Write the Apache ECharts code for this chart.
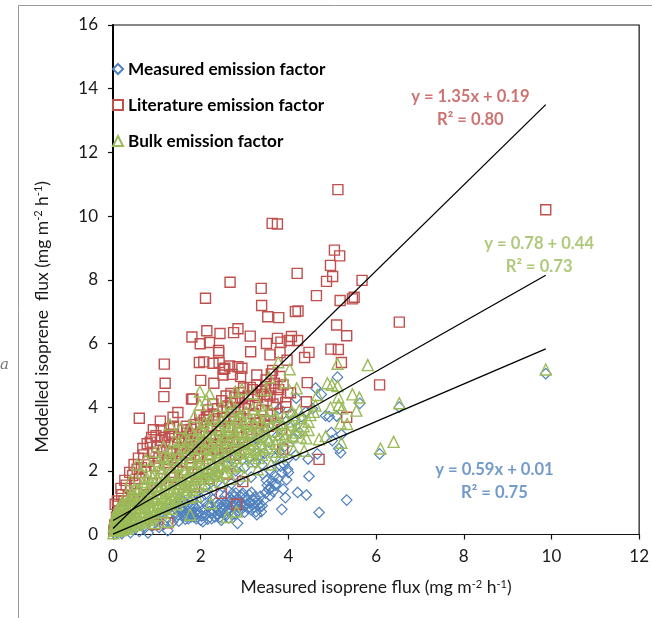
<!DOCTYPE html>
<html>
<head>
<meta charset="utf-8">
<style>html,body{margin:0;padding:0;background:#fff}#c{width:652px;height:618px}</style>
<script src="https://cdn.jsdelivr.net/npm/echarts@6/dist/echarts.min.js"></script>
</head>
<body>
<div id="c"></div>
<script>
const legendNames = ['Measured emission factor', 'Literature emission factor', 'Bulk emission factor'];
const xTicks = [0, 2, 4, 6, 8, 10, 12];
const yTicks = [0, 2, 4, 6, 8, 10, 12, 14, 16];

const measured = [
[9.87,5.05],[6.53,4.0],[6.08,2.53],[5.63,4.12],[5.33,1.08],[5.12,4.94],[5.1,3.72],[4.93,3.7],[4.85,3.73],[4.98,3.2],[5.21,3.14],[5.19,2.57],[5.15,2.7],[5.0,2.95],
[4.7,0.69],[4.66,2.53],[4.47,1.83],[4.45,2.37],[4.41,1.24],[4.21,1.32],[4.18,4.28],[4.17,2.49],[3.93,1.16],[3.85,0.79],[4.0,1.95],[3.98,2.05],[3.9,2.2],[3.85,1.95],[3.8,2.6],[3.72,1.6],[3.7,1.55],[3.65,1.35],[3.6,1.45],[3.58,1.22],[3.55,1.42],[3.5,1.7],[3.48,1.3],[3.42,1.9],[3.4,0.9],
[3.38,0.72],[3.35,0.85],[3.3,1.05],[3.28,0.62],[3.22,0.85],[3.18,1.1],[3.15,0.78],[3.1,1.25],[3.05,0.95],[3.02,1.15],[3.0,0.7],[2.96,1.3],[2.93,1.0],[2.9,1.2],[2.86,0.85],[2.84,0.35],[2.8,1.3],[2.78,0.65],[2.75,1.05],[2.72,1.28],[2.7,0.9],[2.68,0.75],[2.65,1.15],[2.6,0.95],[2.58,0.6],[2.55,1.2],[2.52,0.8],[2.5,1.05],[2.47,0.45],[2.45,0.7],[2.42,0.95],[2.38,0.6],[2.35,0.85],[2.3,0.75],[2.28,1.1],[2.25,0.5],[2.2,0.72],[2.15,0.9],[2.1,1.25],[2.05,0.4],[2.0,0.45],[1.95,0.7],[1.9,0.5],[1.88,0.85],[1.85,0.55],[1.8,0.65],[1.75,0.9],[1.72,0.5],[1.7,0.72],[1.65,0.48],[1.6,0.6],[1.55,0.8],[1.5,0.42],[1.45,0.55],[1.4,0.68],[1.35,0.38],[1.25,0.12],[1.2,0.45],[1.15,0.32],[1.05,0.22],[1.0,0.42],[0.9,0.28],[0.8,0.05],[0.72,0.2],[0.6,0.1],[0.5,0.18],[0.4,0.06],[0.3,0.12],[0.2,0.03],[0.1,0.05],[0.04,0.02],
[3.0,2.1],[3.1,2.4],[3.2,2.75],[3.3,3.0],[3.4,2.2],[3.45,2.55],[3.5,3.3],[3.55,2.9],[3.6,2.0],[3.65,3.6],[3.7,2.4],[3.75,3.1],[3.8,3.95],[3.85,3.4],[3.9,2.75],[3.95,3.55],[4.0,2.4],[4.05,3.8],[4.1,3.0],[4.15,3.55],[4.25,3.2],[4.3,3.7],[4.4,3.85],[4.55,3.95],[4.62,4.6],[4.75,4.4],[2.7,1.6],[2.8,2.0],[2.9,1.7],[2.95,2.35],[2.6,2.2],[2.5,1.5],[2.4,1.9],[2.3,1.4],[2.2,1.7],[2.1,1.5],[2.0,1.15],[1.9,1.3],[1.8,1.1],[1.7,1.25],[1.6,1.0],[1.5,1.1],[1.4,0.95],[1.3,0.85],[1.2,0.75],[1.1,0.7],[1.0,0.65],
[1.42,0.82],[1.48,0.62],[1.52,0.95],[1.58,0.72],[1.62,0.85],[1.68,0.62],[1.74,0.78],[1.78,0.55],[1.82,0.92],[1.86,0.7],[1.92,0.62],[1.96,0.88],[2.02,0.58],[2.06,0.78],[2.12,0.62],[2.16,0.48],[2.22,0.92],[2.26,0.68],[2.32,0.55],[2.36,1.02],[2.4,0.75],[2.44,0.55],[2.48,0.88],[2.54,0.62],[2.56,1.0],[2.62,0.78],[2.64,0.52],[2.66,1.05],[2.72,0.62],[2.74,0.88],[2.76,1.18],[2.82,0.95],[2.84,0.72],[2.88,1.08],[2.92,0.78],[2.94,1.25],[2.98,0.92],[3.04,1.08],[3.08,0.82],[3.12,1.0],[3.16,1.32],[3.2,0.95],[3.24,1.18],[3.26,0.72],[3.32,0.92],[3.36,1.2],[3.44,1.08],[3.52,1.55],[3.62,1.68],[3.68,1.85],[3.76,1.75],[3.82,2.15],[3.88,1.42],[3.96,1.72],[2.3,2.1],[2.4,2.4],[2.55,2.55],[2.7,2.35],[2.85,2.7],[3.05,2.85],[3.15,1.8],[3.25,2.25],[3.35,2.5]
];

const literature = [
[9.87,10.2],[6.53,6.67],[6.08,4.7],[5.68,7.98],[5.5,7.45],[5.46,7.4],[5.33,6.24],[5.33,3.68],[5.21,5.4],[5.18,7.35],[5.17,8.75],[5.14,5.81],[5.13,10.83],[5.1,6.58],[5.05,8.93],[5.01,8.1],[4.97,5.82],[4.96,8.45],[4.87,7.95],[4.7,2.36],[4.64,7.5],[4.47,5.72],[4.43,4.77],[4.41,4.17],[4.37,5.56],[4.22,7.02],[4.21,6.09],[4.2,8.2],[4.16,7.0],[4.07,6.22],[4.02,6.09],[3.97,5.47],[3.94,4.15],[3.94,4.01],[3.87,2.68],[3.83,6.04],[3.81,5.71],[3.81,4.96],[3.78,6.81],[3.75,9.75],[3.75,6.16],[3.64,5.15],[3.63,9.77],[3.61,5.04],[3.58,5.64],[3.53,6.84],[3.5,6.0],[3.49,4.85],[3.39,7.19],[3.38,7.73],[3.28,5.01],[3.14,5.74],[3.13,6.23],[3.13,4.62],[2.94,5.22],[2.91,4.96],[2.85,6.46],[2.85,5.27],[2.82,0.95],[2.75,6.34],[2.72,5.03],[2.69,4.43],[2.67,7.92],[2.66,5.29],[2.55,5.22],[2.52,5.19],[2.51,5.01],[2.47,1.29],[2.44,6.31],[2.42,5.4],[2.41,5.78],[2.41,5.71],[2.3,4.75],[2.28,5.38],[2.2,6.03],[2.16,3.91],[2.14,6.4],[2.13,3.7],[2.11,7.42],[2.07,5.42],[2.0,4.84],[1.99,5.99],[1.97,5.4],[1.82,4.26],[1.8,6.2],[1.79,4.25],[1.69,3.18],[1.6,3.28],[1.48,3.83],[1.37,3.68],[1.29,3.33],[1.25,0.37],[1.19,4.75],[1.17,5.35],[1.16,4.33],[1.1,3.28],[1.08,3.56],[0.95,0.31],[0.92,3.29],[0.6,3.65],[0.23,0.92],[0.12,0.89],
[3.6,4.6],[3.5,4.2],[3.45,4.4],[3.4,3.9],[3.3,4.3],[3.25,4.05],[3.2,3.8],[3.1,4.1],[3.05,3.6],[3.0,3.95],[2.95,4.3],[2.9,3.7],[2.85,3.95],[2.8,4.15],[2.75,3.6],[2.7,3.85],[2.65,3.4],[2.6,4.0],[2.55,3.65],[2.5,3.85],[2.45,3.3],[2.4,3.55],[2.35,3.1],[2.3,3.75],[2.25,3.35],[2.2,3.05],[2.15,3.4],[2.1,2.85],[2.05,3.2],[2.0,3.5],[1.95,2.9],[1.9,3.15],[1.85,3.45],[1.8,2.75],[1.75,3.0],[1.7,2.55],[1.65,2.95],[1.55,2.7],[1.5,3.05],[1.45,2.4],[1.4,2.85],[1.35,3.15],[1.3,2.6],[1.25,2.9],[1.2,2.25],[1.15,2.65],[1.1,2.95],[1.05,2.4],[1.0,2.75],[0.95,2.15],[0.9,2.55],[0.85,2.9],[0.8,2.3],[0.75,1.95],[0.7,2.5],[0.65,2.1],[0.6,1.75],[0.55,2.05],[0.5,1.6],[0.45,1.85],[0.4,1.45],[0.35,1.2],[0.3,1.55],[0.25,1.05],[0.2,1.25],[0.16,0.75],[0.08,0.55],[0.04,0.3],[0.02,0.12],
[3.0,2.9],[2.8,2.5],[2.6,2.85],[2.4,2.4],[2.2,2.2],[2.0,2.5],[1.86,1.5],[1.8,2.1],[1.6,1.95],[1.4,1.8],[1.2,1.55],[1.0,1.4],[0.8,1.25],[0.6,1.05],[0.4,0.8],[0.3,0.45],[0.15,0.25],[2.96,1.66],[3.3,3.3],[3.45,3.55],[3.6,3.75],[3.75,4.3],[3.85,3.3],[4.05,4.45],
[0.05,0.95],[0.1,1.05],[0.18,1.45],[0.27,1.7],[0.38,1.95],[0.48,2.2],[0.58,2.4],[0.68,2.7],[0.78,2.85],[0.88,3.05],[0.98,3.1],[1.18,3.05],[1.28,3.1],[1.38,3.4],[1.58,3.05],[1.68,3.4],[1.78,3.3],[1.88,3.35],[1.98,3.75],[2.08,3.6],[2.18,3.75],[2.28,4.1],[2.38,3.95],[2.48,4.2],[2.58,4.35],[2.68,4.15],[2.78,4.3],[2.88,4.45],[2.98,4.6],[3.08,4.35],[3.18,4.55],[3.28,4.7],[3.38,4.5],[3.48,4.65],[3.58,4.35],[3.68,4.75],[3.78,4.55],[3.88,4.7],[3.98,4.45],
[1.25,2.35],[1.35,2.55],[1.45,2.1],[1.55,2.3],[1.65,2.5],[1.75,2.25],[1.85,2.65],[1.95,2.45],[2.05,2.7],[2.15,2.5],[2.25,2.85],[2.35,2.65],[2.45,2.95],[2.55,2.75],[2.65,3.05],[2.75,2.9],[2.85,3.2],[2.95,3.05],[3.05,3.3],[3.15,3.15],[3.25,3.5],[3.35,3.6],[3.55,3.4],[3.65,4.1],[3.75,3.8],[1.3,1.95],[1.1,1.75],[0.9,1.6],[0.7,1.45],[0.5,1.1],[0.28,0.75],[0.1,0.32],[2.6,1.9],[2.2,1.75],[1.95,1.9],[1.55,1.6]
];

const bulk = [
[9.87,5.18],[6.53,4.12],[6.4,2.91],[6.1,2.7],[5.81,5.32],[5.62,4.3],[5.55,3.89],[5.46,4.4],[5.34,3.47],[5.23,3.96],[5.21,2.88],[5.19,3.49],[5.15,4.07],[5.14,4.31],[5.12,5.36],[5.12,4.66],[4.99,4.7],[4.96,3.99],[4.89,4.75],[4.85,3.09],[4.7,2.99],[4.66,4.38],[4.46,3.54],[4.46,3.28],[4.41,3.02],[4.36,2.63],[4.19,4.59],[4.03,5.19],[3.93,4.78],[3.77,5.41],[3.56,4.94],[3.49,4.54],[3.19,4.43],[2.94,4.56],[2.79,4.49],[2.69,4.1],[2.47,4.04],[2.2,4.41],[2.13,4.22],[1.98,4.49],[1.98,4.07],
[4.3,3.65],[4.25,3.9],[4.2,3.4],[4.15,3.75],[4.1,3.1],[4.05,3.55],[4.0,2.95],[3.95,3.3],[3.9,3.7],[3.85,2.6],[3.8,3.15],[3.75,3.5],[3.7,2.85],[3.65,3.25],[3.6,3.9],[3.55,2.7],[3.5,3.05],[3.45,3.4],[3.4,2.5],[3.35,2.85],[3.3,3.7],[3.25,3.15],[3.2,2.3],[3.15,2.7],[3.1,3.4],[3.05,2.95],[3.0,2.4],[2.95,3.2],[2.9,2.65],[2.85,3.55],[2.8,2.95],[2.75,2.2],[2.7,3.3],[2.65,2.7],[2.6,3.7],[2.55,3.0],[2.5,2.35],[2.45,3.4],[2.4,2.8],[2.35,2.1],[2.3,3.1],[2.25,2.55],[2.2,3.6],[2.15,2.9],[2.1,2.25],[2.05,3.25],[2.0,2.7],[1.95,1.95],[1.9,3.05],[1.85,3.7],[1.8,2.4],[1.75,3.3],[1.7,1.85],[1.65,2.75],[1.6,2.2],[1.55,3.35],[1.5,2.5],[1.45,1.75],[1.4,2.95],[1.35,2.1],[1.3,3.45],[1.25,2.4],[1.2,1.6],[1.15,2.75],[1.1,1.95],[1.05,2.3],[1.0,1.5],[0.95,2.6],[0.9,1.8],[0.85,2.15],[0.8,1.35],[0.75,2.35],[0.7,1.65],[0.65,1.95],[0.6,1.2],[0.55,2.2],[0.5,1.45],[0.45,1.1],[0.4,1.7],[0.35,0.95],[0.3,1.25],[0.25,0.7],[0.2,1.0],[0.15,0.5],[0.1,0.8],[0.06,0.3],[0.03,0.12],[0.01,0.04],
[2.6,0.55],[2.82,0.72],[2.24,0.98],[1.76,0.62],[1.25,0.4],[0.95,0.36],[1.9,1.2],[2.15,1.55],[2.45,1.65],[2.7,1.75],[3.0,1.85],[3.3,2.05],[3.6,2.2],[1.7,1.4],[1.5,1.25],[1.3,1.05],[1.1,0.9],[0.9,0.75],[0.7,0.6],[0.5,0.42],[0.35,0.3],[0.22,0.2],[0.12,0.12],[1.45,0.95],[1.2,0.85],[1.0,0.6],[0.8,0.5],[0.6,0.35],[0.4,0.5],[0.28,0.4],[0.18,0.28],[0.08,0.18],[0.05,0.42],[0.13,0.62],[0.24,0.85],[0.33,1.05],[0.42,1.3],[0.52,0.85],[0.62,0.72],[0.72,1.0],[0.82,0.88],[0.92,1.1],[1.02,1.2],[1.12,1.3],[1.22,1.15],[1.32,1.45],[1.42,1.35],[1.52,1.6],[1.62,1.5],[1.72,1.7],[1.82,1.6],[1.92,1.75],[2.02,1.85],[2.12,1.95],[2.22,2.05],[2.32,1.85],[2.42,2.15],[2.52,1.95],
[0.02,0.25],[0.04,0.5],[0.06,0.15],[0.07,0.65],[0.09,0.35],[0.11,0.2],[0.12,0.45],[0.14,0.7],[0.16,0.3],[0.17,0.85],[0.19,0.15],[0.21,0.55],[0.23,0.38],[0.25,0.95],[0.27,0.22],[0.29,0.62],[0.31,0.75],[0.32,0.18],[0.34,0.5],[0.36,1.1],[0.37,0.35],[0.39,0.85],[0.41,0.25],[0.43,0.62],[0.44,0.98],[0.46,0.4],[0.48,1.25],[0.49,0.72],[0.51,0.55],[0.53,1.05],[0.54,0.3],[0.56,0.85],[0.58,1.4],[0.59,0.5],[0.61,0.95],[0.63,0.42],[0.65,1.3],[0.66,0.7],[0.68,1.12],[0.7,0.38],[0.72,1.5],[0.73,0.82],[0.75,0.55],[0.77,1.2],[0.78,1.75],[0.8,0.68],[0.82,1.45],[0.84,1.05],[0.86,0.45],[0.87,1.62],[0.89,0.9],[0.91,1.28],[0.93,0.58],[0.95,1.95],[0.96,1.15],[0.98,0.8],
[1.01,1.75],[1.03,0.95],[1.06,1.4],[1.08,0.7],[1.09,2.1],[1.11,1.55],[1.13,1.1],[1.16,2.45],[1.17,0.85],[1.19,1.85],[1.21,1.35],[1.23,2.2],[1.26,1.0],[1.27,1.7],[1.29,2.6],[1.31,1.25],[1.33,0.8],[1.36,1.9],[1.37,2.35],[1.39,1.15],[1.41,1.6],[1.43,2.7],[1.46,1.05],[1.47,2.15],[1.49,1.45],[1.51,2.9],[1.53,1.85],[1.56,1.1],[1.57,2.4],[1.59,1.7],[1.61,3.0],[1.63,1.3],[1.66,2.05],[1.67,2.55],[1.69,1.55],[1.71,2.95],[1.73,1.15],[1.76,2.3],[1.77,1.95],[1.79,2.7],[1.81,1.4],[1.83,3.15],[1.86,2.1],[1.87,1.75],[1.89,2.5],[1.91,2.85],[1.93,1.5],[1.96,2.25],[1.97,3.3],[1.99,2.0],
[2.01,2.95],[2.03,1.6],[2.06,2.4],[2.08,3.5],[2.09,1.95],[2.11,2.7],[2.13,3.15],[2.16,2.05],[2.18,1.75],[2.19,2.5],[2.21,3.35],[2.23,2.8],[2.26,1.9],[2.28,2.25],[2.29,3.7],[2.31,2.65],[2.33,2.0],[2.36,3.0],[2.38,2.45],[2.39,3.3],[2.41,1.85],[2.43,2.6],[2.46,2.9],[2.48,3.6],[2.49,2.15],[2.51,3.15],[2.53,2.5],[2.56,3.5],[2.58,2.8],[2.59,1.95],[2.61,3.25],[2.63,2.3],[2.66,3.0],[2.68,3.85],[2.69,2.55],[2.71,2.1],[2.73,3.4],[2.76,2.75],[2.78,3.15],[2.79,3.95],[2.81,2.4],[2.83,3.65],[2.86,2.85],[2.88,2.15],[2.89,3.3],[2.91,3.75],[2.93,2.55],[2.96,2.95],[2.98,3.5],[2.99,2.7],
[3.02,3.15],[3.04,3.85],[3.07,2.6],[3.09,3.55],[3.12,2.85],[3.14,3.2],[3.17,2.5],[3.19,3.95],[3.22,3.0],[3.24,3.45],[3.27,2.65],[3.29,3.3],[3.32,2.4],[3.34,4.05],[3.37,3.1],[3.39,3.55],[3.42,2.75],[3.44,3.9],[3.47,3.25],[3.52,3.65],[3.57,2.95],[3.62,3.45],[3.67,2.6],[3.72,3.7],[3.77,3.0],[3.82,2.45],[3.87,3.45],[3.92,3.05],[4.02,3.45],[4.08,3.85],[4.12,2.65],[4.18,3.2],[4.28,3.05],[4.35,3.4],[4.5,3.75],[4.58,3.85],[4.62,4.05]
];

const trendX = [0, 9.87];
const trendMeasured = [0.01, 5.83];
const trendLiterature = [0.19, 13.5];
const trendBulk = [0.44, 8.14];

const BLUE = '#4f81bd', RED = '#c0504d', GREEN = '#9bbb59';
const FONT = 'Lato';

function hollow(name, data, symbol, size, color, width) {
  return { name, type: 'scatter', data, symbol, symbolSize: size, silent: true, large: false,
    itemStyle: { color: 'rgba(255,255,255,0)', borderColor: color, borderWidth: width, opacity: 1 } };
}
function trend(values) {
  return { type: 'line', data: trendX.map((x, i) => [x, values[i]]), showSymbol: false, symbol: 'none', silent: true, z: 5,
    lineStyle: { color: '#000', width: 1.3 } };
}
function note(x, y, text, color) {
  return { type: 'scatter', symbolSize: 0, silent: true, z: 6, data: [[x, y]],
    label: { show: true, position: 'inside', formatter: text, color, fontFamily: FONT, fontWeight: 'bold', fontSize: 16.6, lineHeight: 23, align: 'center' } };
}
const sup = { fontFamily: FONT, fontSize: 11, color: '#1a1a1a', verticalAlign: 'top', padding: [0, 0, 6, 0] };
const nameStyle = { fontFamily: FONT, fontSize: 17.5, color: '#1a1a1a', rich: { sup } };

const chart = echarts.init(document.getElementById('c'), null, { renderer: 'canvas' });
chart.setOption({
  animation: false,
  backgroundColor: '#fff',
  grid: { left: 113, right: 10.5, top: 25, bottom: 83.5, show: true, borderColor: '#111', borderWidth: 1.2, backgroundColor: 'transparent' },
  legend: {
    data: legendNames.map((name, i) => ({ name, icon: ['diamond', 'rect', 'triangle'][i] })),
    orient: 'vertical', left: 107, top: 55.5, itemGap: 19, itemWidth: 10, itemHeight: 10,
    textStyle: { fontFamily: FONT, fontWeight: 'bold', fontSize: 17.2, color: '#000', padding: [0, 0, 0, 0] },
    selectedMode: false
  },
  xAxis: {
    type: 'value', min: 0, max: 12, interval: xTicks[1] - xTicks[0], splitLine: { show: false },
    axisLine: { lineStyle: { color: '#111', width: 1.2 } },
    axisTick: { length: 5, lineStyle: { color: '#111', width: 1.2 } },
    axisLabel: { margin: 14, fontFamily: FONT, fontSize: 17, color: '#1a1a1a' },
    name: 'Measured isoprene flux (mg m{sup|-2} h{sup|-1})', nameLocation: 'middle', nameGap: 44, nameTextStyle: nameStyle
  },
  yAxis: {
    type: 'value', min: 0, max: 16, interval: yTicks[1] - yTicks[0], splitLine: { show: false },
    axisLine: { lineStyle: { color: '#000', width: 2 } },
    axisTick: { length: 5, lineStyle: { color: '#111', width: 1.2 } },
    axisLabel: { margin: 15, fontFamily: FONT, fontSize: 17, color: '#1a1a1a' },
    name: 'Modelled isoprene  flux (mg m{sup|-2} h{sup|-1})', nameLocation: 'middle', nameGap: 62, nameTextStyle: Object.assign({ padding: [0, 74, 0, 0] }, nameStyle)
  },
  series: [
    hollow(legendNames[0], measured, 'diamond', 10.5, BLUE, 1.2),
    hollow(legendNames[1], literature, 'rect', 10, RED, 1.4),
    hollow(legendNames[2], bulk, 'triangle', 11, GREEN, 1.4),
    trend(trendMeasured), trend(trendLiterature), trend(trendBulk),
    note(8.15, 13.38, 'y = 1.35x + 0.19\nR² = 0.80', RED),
    note(9.72, 8.78, 'y = 0.78 + 0.44\nR² = 0.73', GREEN),
    note(8.7, 1.68, 'y = 0.59x + 0.01\nR² = 0.75', BLUE)
  ],
  graphic: [
    { type: 'polyline', silent: true, shape: { points: [[18.5, 618], [18.5, 5.5], [652, 5.5]] }, style: { stroke: '#9a9a9a', lineWidth: 1, fill: null } },
    { type: 'text', silent: true, left: 0, top: 358, style: { text: 'a', font: 'italic 15px "DejaVu Serif"', fill: '#777' } }
  ]
});
</script>
</body>
</html>
